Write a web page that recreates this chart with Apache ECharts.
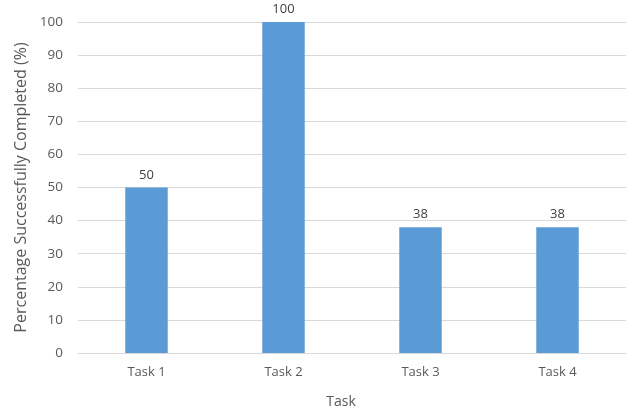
<!DOCTYPE html>
<html>
<head>
<meta charset="utf-8">
<script src="https://cdn.jsdelivr.net/npm/echarts@6/dist/echarts.min.js"></script>
<style>
  html, body { margin: 0; padding: 0; background: #fff; }
  #chart { width: 630px; height: 416px; }
</style>
</head>
<body>
<div id="chart"></div>
<script>
// chart data
var tasks = ["Task 1", "Task 2", "Task 3", "Task 4"];
var completed = [50, 100, 38, 38];

var textColor = "#595959";
var fontFam = "'Open Sans', 'Liberation Sans', sans-serif";

var myChart = echarts.init(document.getElementById("chart"));
var option = {
  backgroundColor: "#ffffff",
  animation: false,
  grid: {
    left: 78,
    right: 4,
    top: 22,
    bottom: 63,
    containLabel: false,
  },
  xAxis: {
    type: "category",
    data: tasks,
    name: "Task",
    nameLocation: "middle",
    nameGap: 42,
    nameTextStyle: { color: textColor, fontSize: 14, fontFamily: fontFam, padding: [0, 22, 0, 0] },
    axisLine: { lineStyle: { color: "#d9d9d9" } },
    axisTick: { show: false },
    axisLabel: { color: textColor, fontSize: 13, fontFamily: fontFam, margin: 13 },
  },
  yAxis: {
    type: "value",
    min: 0,
    max: 100,
    interval: 10,
    name: "Percentage Successfully Completed (%)",
    nameLocation: "middle",
    nameGap: 45,
    nameTextStyle: { color: textColor, fontSize: 16, fontFamily: fontFam },
    axisLine: { show: false },
    axisTick: { show: false },
    axisLabel: { color: textColor, fontSize: 13.5, fontFamily: fontFam, margin: 15 },
    splitLine: { lineStyle: { color: "#d9d9d9" } },
  },
  series: [
    {
      type: "bar",
      data: completed,
      barWidth: "31%",
      itemStyle: { color: "#5b9bd5" },
      label: {
        show: true,
        position: "top",
        distance: 6,
        color: "#404040",
        fontSize: 13,
        fontFamily: fontFam,
      },
    },
  ],
};
myChart.setOption(option);
</script>
</body>
</html>
